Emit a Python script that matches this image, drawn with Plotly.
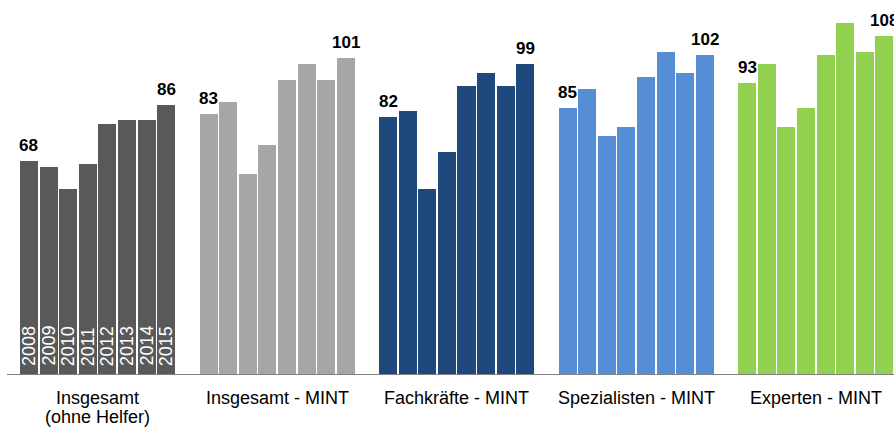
import plotly.graph_objects as go

years = ["2008", "2009", "2010", "2011", "2012", "2013", "2014", "2015"]
categories = ["Insgesamt<br>(ohne Helfer)", "Insgesamt - MINT", "Fachkräfte - MINT",
              "Spezialisten - MINT", "Experten - MINT"]
insgesamt_ohne_helfer = [68, 66, 59, 67, 80, 81, 81, 86]
insgesamt_mint = [83, 87, 64, 73, 94, 99, 94, 101]
fachkraefte_mint = [82, 84, 59, 71, 92, 96, 92, 99]
spezialisten_mint = [85, 91, 76, 79, 95, 103, 96, 102]
experten_mint = [93, 99, 79, 85, 102, 112, 103, 108]

series = [insgesamt_ohne_helfer, insgesamt_mint, fachkraefte_mint,
          spezialisten_mint, experten_mint]
colors = ["#595959", "#A6A6A6", "#1F497D", "#558ED5", "#92D050"]

FONT = "Liberation Sans, Arial, sans-serif"
GROUP_PITCH = 9.16
BAR_W = 0.92

fig = go.Figure()
annotations = []
for g, (vals, col) in enumerate(zip(series, colors)):
    xs = [g * GROUP_PITCH + i for i in range(len(vals))]
    fig.add_trace(go.Bar(x=xs, y=vals, width=BAR_W, marker=dict(color=col, line=dict(width=0)),
                         showlegend=False, hoverinfo="skip"))
    # first / last value labels
    for idx in (0, len(vals) - 1):
        annotations.append(dict(x=xs[idx], y=vals[idx], text="<b>%d</b>" % vals[idx],
                                showarrow=False, yanchor="bottom", xanchor="center",
                                yshift=4,
                                font=dict(size=17, color="#000000", family=FONT)))
    # year labels inside the first group
    if g == 0:
        for x, yr in zip(xs, years):
            annotations.append(dict(x=x, y=0, text=yr, textangle=-90, showarrow=False,
                                    yanchor="bottom", xanchor="center", yshift=6,
                                    font=dict(size=18, color="white", family=FONT)))
    # category label under the group (one annotation per line)
    center = g * GROUP_PITCH + (len(vals) - 1) / 2
    for li, line in enumerate(categories[g].split("<br>")):
        annotations.append(dict(x=center, y=0, yref="paper", text=line, showarrow=False,
                                yanchor="top", xanchor="center", yshift=-12 - 19 * li,
                                font=dict(size=18, color="#000000", family=FONT)))

fig.update_layout(
    width=894, height=427,
    margin=dict(l=7, r=0, t=0, b=53),
    paper_bgcolor="white", plot_bgcolor="white",
    bargap=0,
    annotations=annotations,
    font=dict(family=FONT, color="#000000"),
    xaxis=dict(range=[-1.122, 44.13], showticklabels=False, showgrid=False, zeroline=False,
               showline=True, linecolor="#808080", linewidth=1, ticks="",
               fixedrange=True),
    yaxis=dict(range=[0, 119.45], visible=False, showgrid=False, zeroline=False,
               fixedrange=True),
)

fig.write_html("out.html", config={"displayModeBar": False})
